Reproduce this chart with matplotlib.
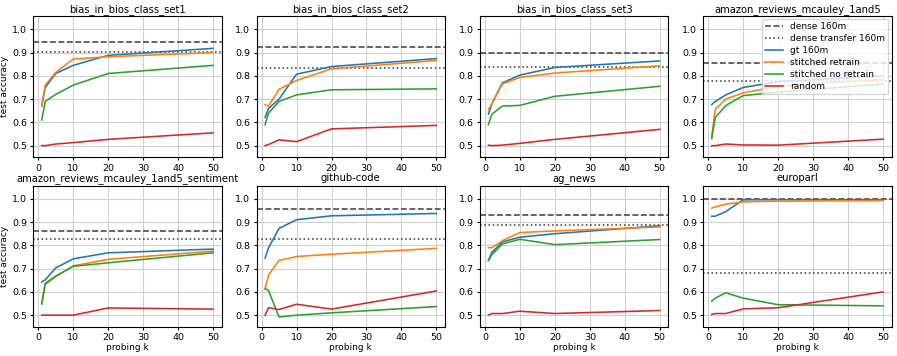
import matplotlib
matplotlib.use("Agg")
import matplotlib.pyplot as plt

ks = [1, 2, 5, 10, 20, 50]

titles = ["bias_in_bios_class_set1", "bias_in_bios_class_set2", "bias_in_bios_class_set3",
          "amazon_reviews_mcauley_1and5", "amazon_reviews_mcauley_1and5_sentiment",
          "github-code", "ag_news", "europarl"]

dense_160m = [0.945, 0.923, 0.900, 0.854, 0.863, 0.958, 0.930, 0.999]
dense_transfer_160m = [0.902, 0.834, 0.838, 0.776, 0.829, 0.827, 0.889, 0.683]

gt_160m = [
    [0.67, 0.75, 0.81, 0.845, 0.888, 0.918],
    [0.621, 0.66, 0.70, 0.807, 0.840, 0.874],
    [0.635, 0.68, 0.77, 0.803, 0.836, 0.864],
    [0.677, 0.690, 0.718, 0.750, 0.775, 0.800],
    [0.643, 0.652, 0.703, 0.742, 0.768, 0.784],
    [0.745, 0.790, 0.873, 0.910, 0.927, 0.937],
    [0.735, 0.770, 0.815, 0.835, 0.850, 0.884],
    [0.925, 0.925, 0.945, 0.996, 0.996, 0.996],
]
stitched_retrain = [
    [0.67, 0.76, 0.815, 0.872, 0.882, 0.900],
    [0.676, 0.670, 0.742, 0.780, 0.830, 0.866],
    [0.655, 0.680, 0.765, 0.793, 0.812, 0.843],
    [0.540, 0.655, 0.700, 0.727, 0.755, 0.785],
    [0.550, 0.632, 0.665, 0.712, 0.740, 0.775],
    [0.612, 0.673, 0.735, 0.752, 0.762, 0.787],
    [0.790, 0.790, 0.820, 0.855, 0.862, 0.879],
    [0.960, 0.965, 0.977, 0.987, 0.990, 0.992],
]
stitched_no_retrain = [
    [0.61, 0.69, 0.72, 0.76, 0.81, 0.845],
    [0.59, 0.64, 0.69, 0.718, 0.740, 0.744],
    [0.59, 0.635, 0.670, 0.673, 0.712, 0.755],
    [0.53, 0.62, 0.672, 0.715, 0.730, 0.765],
    [0.548, 0.637, 0.668, 0.710, 0.725, 0.768],
    [0.615, 0.605, 0.492, 0.500, 0.510, 0.537],
    [0.735, 0.760, 0.806, 0.826, 0.803, 0.825],
    [0.560, 0.573, 0.596, 0.573, 0.545, 0.540],
]
random_init = [
    [0.500, 0.500, 0.507, 0.513, 0.527, 0.555],
    [0.500, 0.505, 0.525, 0.517, 0.572, 0.587],
    [0.502, 0.500, 0.502, 0.510, 0.527, 0.570],
    [0.500, 0.500, 0.507, 0.503, 0.502, 0.528],
    [0.500, 0.500, 0.500, 0.500, 0.531, 0.526],
    [0.500, 0.532, 0.524, 0.547, 0.526, 0.604],
    [0.500, 0.507, 0.507, 0.517, 0.507, 0.520],
    [0.503, 0.507, 0.507, 0.527, 0.532, 0.600],
]

plt.rcParams['font.family'] = ['DejaVu Sans']
fig, axes = plt.subplots(2, 4, figsize=(8.97, 3.56), dpi=100)
fig.subplots_adjust(left=0.037, right=0.994, top=0.955, bottom=0.082, hspace=0.2, wspace=0.185)

lw = 1.15
for i, ax in enumerate(axes.flat):
    ax.axhline(dense_160m[i], color='#444444', linestyle='--', linewidth=lw, label='dense 160m')
    ax.axhline(dense_transfer_160m[i], color='#444444', linestyle=':', linewidth=lw, label='dense transfer 160m')
    ax.plot(ks, gt_160m[i], color='#1f77b4', linewidth=lw, label='gt 160m')
    ax.plot(ks, stitched_retrain[i], color='#ff7f0e', linewidth=lw, label='stitched retrain')
    ax.plot(ks, stitched_no_retrain[i], color='#2ca02c', linewidth=lw, label='stitched no retrain')
    ax.plot(ks, random_init[i], color='#d62728', linewidth=lw, label='random')
    ax.set_ylim(0.45, 1.057)
    ax.set_yticks([0.5, 0.6, 0.7, 0.8, 0.9, 1.0])
    ax.set_xticks([0, 10, 20, 30, 40, 50])
    ax.grid(True, color='#d0d0d0', linewidth=0.8)
    ax.set_title(titles[i], fontsize=7.2, pad=3)
    ax.tick_params(labelsize=6.8, length=2.5, pad=2)
    for s in ax.spines.values():
        s.set_linewidth(0.8)
    if i % 4 == 0:
        ax.set_ylabel('test accuracy', fontsize=6.5, labelpad=2)
    if i >= 4:
        ax.set_xlabel('probing k', fontsize=6.5, labelpad=1)

axes[0, 3].legend(loc='upper right', fontsize=6.5, framealpha=0.8, borderpad=0.35,
                  labelspacing=0.33, handlelength=2.0, borderaxespad=0.35)

fig.savefig('out.png', dpi=100)
